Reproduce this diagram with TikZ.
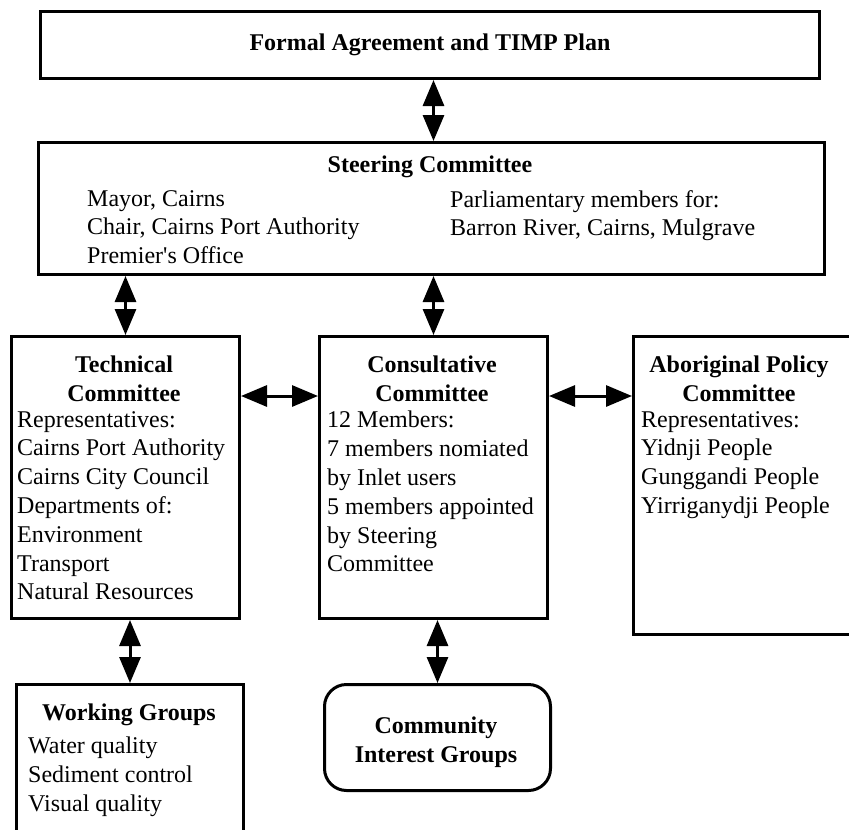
\documentclass[tikz,border=0pt]{standalone}
\usepackage{fontspec}
\setmainfont{Liberation Serif}
\usepackage{tikz}
\usetikzlibrary{arrows.meta, positioning, calc}
\tikzset{
    box/.style={draw, rectangle, line width=3pt, anchor=north west, inner sep=0pt},
    rbox/.style={box, rounded corners=22pt},
    titletxt/.style={inner sep=0pt, align=center, font=\fontsize{24}{28.8}\selectfont\bfseries},
    bodytxt/.style={inner sep=0pt, align=left, anchor=north west, font=\fontsize{24}{28.8}\selectfont},
    dblarrow/.style={{Triangle[length=26pt,width=21pt]}-{Triangle[length=26pt,width=21pt]}, line width=3pt}
}
\begin{document}
\begin{tikzpicture}[x=1pt, y=-1pt]
        % Page frame (right and bottom boxes run off the page)
        \useasboundingbox (0,0) rectangle (849,830);
        \clip (0,0) rectangle (849,830);

        % Top level: agreement and steering
        \node[box, minimum width=779, minimum height=67, font=\fontsize{24}{28.8}\selectfont\bfseries] (plan) at (39,10) {Formal Agreement and TIMP Plan};
        \node[box, minimum width=786, minimum height=132] (steer) at (37,141) {};
        \node[titletxt, anchor=base] (steertitle) at (430,172) {Steering Committee};
        \node[bodytxt] (steerleft) at (87,190) {Mayor, Cairns\\Chair, Cairns Port Authority\\Premier\textquotesingle s Office};
        \node[bodytxt] (steerright) at (450,190) {Parliamentary members for:\\Barron River, Cairns, Mulgrave};

        % Middle level: the three committees
        \node[box, minimum width=228, minimum height=282] (tech) at (10,335) {};
        \node[titletxt, anchor=north] (techtitle) at (124,355.5) {Technical\\Committee};
        \node[bodytxt] (techbody) at (17,411) {Representatives:\\Cairns Port Authority\\Cairns City Council\\Departments of:\\Environment\\Transport\\Natural Resources};

        \node[box, minimum width=228, minimum height=282] (cons) at (318,335) {};
        \node[titletxt, anchor=north] (constitle) at (432,355.5) {Consultative\\Committee};
        \node[bodytxt] (consbody) at (327,411) {12 Members:\\7 members nomiated\\by Inlet users\\5 members appointed\\by Steering\\Committee};

        \node[box, minimum width=240, minimum height=298] (abor) at (632,335) {};
        \node[titletxt, anchor=north] (abortitle) at (739,355.5) {Aboriginal Policy\\Committee};
        \node[bodytxt] (aborbody) at (641,411) {Representatives:\\Yidnji People\\Gunggandi People\\Yirriganydji People};

        % Bottom level
        \node[box, minimum width=227, minimum height=170] (work) at (15,683) {};
        \node[titletxt, anchor=base] (worktitle) at (129,720) {Working Groups};
        \node[bodytxt] (workbody) at (28,736.6) {Water quality\\Sediment control\\Visual quality};

        \node[rbox, minimum width=226, minimum height=106] (comm) at (323,683) {};
        \node[titletxt, anchor=north] (commtitle) at (436,716.5) {Community\\Interest Groups};

        % Two-way links
        \coordinate (lvl) at (0,396);
        \draw[dblarrow] (plan.south -| cons.north) -- (steer.north -| cons.north);
        \draw[dblarrow] (steer.south -| tech.north) -- (tech.north);
        \draw[dblarrow] (steer.south -| cons.north) -- (cons.north);
        \draw[dblarrow] (tech.east |- lvl) -- (cons.west |- lvl);
        \draw[dblarrow] (cons.east |- lvl) -- (abor.west |- lvl);
        \draw[dblarrow] (tech.south -| work.north) -- (work.north);
        \draw[dblarrow] (cons.south -| comm.north) -- (comm.north);
    \end{tikzpicture}
\end{document}
